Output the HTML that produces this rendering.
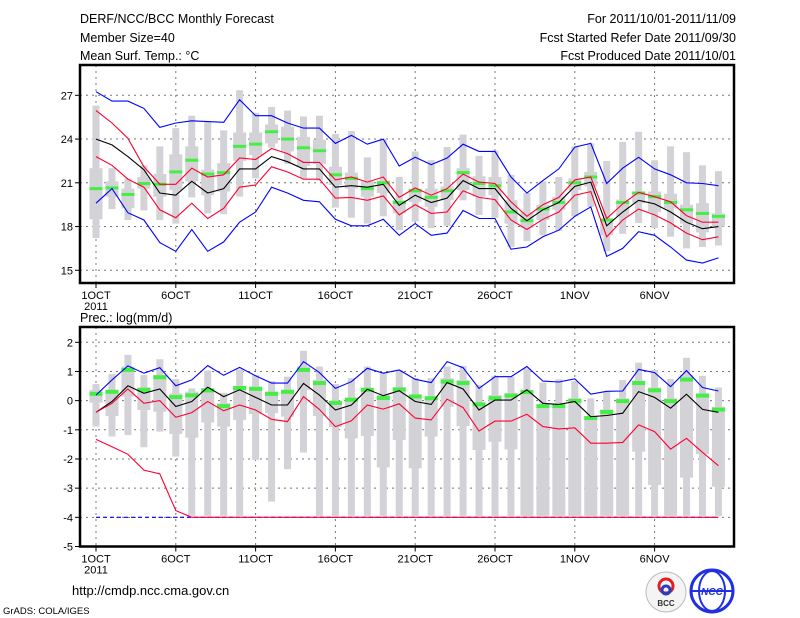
<!DOCTYPE html>
<html><head><meta charset="utf-8"><style>
html,body{margin:0;padding:0;background:#fff;}
svg{display:block;font-family:"Liberation Sans",sans-serif;}
</style></head><body>
<svg id="chart" width="800" height="618" viewBox="0 0 800 618" xmlns="http://www.w3.org/2000/svg">
<rect x="0" y="0" width="800" height="618" fill="#fff"/>
<g font-size="12.5" fill="#000">
<text x="80" y="23">DERF/NCC/BCC Monthly Forecast</text>
<text x="80" y="42">Member Size=40</text>
<text x="80" y="60">Mean Surf. Temp.: °C</text>
<text x="736" y="23" text-anchor="end">For 2011/10/01-2011/11/09</text>
<text x="736" y="42" text-anchor="end">Fcst Started Refer Date 2011/09/30</text>
<text x="736" y="60" text-anchor="end">Fcst Produced Date 2011/10/01</text>
</g>
<text x="80" y="322" font-size="12.5">Prec.: log(mm/d)</text>
<text x="72" y="595" font-size="13">http://cmdp.ncc.cma.gov.cn</text>
<text x="3" y="614" font-size="9.5">GrADS: COLA/IGES</text>
<g>
<circle cx="666" cy="592" r="20" fill="#f4f4f4" stroke="#bbb"/>
<circle cx="666" cy="586" r="7" fill="none" stroke="#e02020" stroke-width="3"/>
<circle cx="666" cy="590" r="4" fill="none" stroke="#2040c0" stroke-width="3"/>
<text x="666" y="606" font-size="8" text-anchor="middle" font-weight="bold" fill="#333">BCC</text>
</g>
<g>
<circle cx="712" cy="591" r="21" fill="#fff" stroke="#2030e0" stroke-width="3"/>
<ellipse cx="712" cy="591" rx="13" ry="20" fill="none" stroke="#2030e0" stroke-width="2"/>
<line x1="691" y1="591" x2="733" y2="591" stroke="#2030e0" stroke-width="2"/>
<text x="712" y="595" font-size="10" text-anchor="middle" font-style="italic" font-weight="bold" fill="#2030e0">NCC</text>
</g>
<g id="plots"></g>
</svg>
<script>
// ---- temperature panel data (40 days) ----
const dayLabels = ["1OCT","6OCT","11OCT","16OCT","21OCT","26OCT","1NOV","6NOV"];
const tempTicks = [15,18,21,24,27];
const tWhiskTop = [26.3,22.0,21.3,22.2,23.5,24.75,25.6,25.2,24.6,27.35,25.8,26.2,25.95,25.55,25.6,24.35,24.55,22.75,24.0,21.4,23.15,22.55,23.45,24.3,22.85,23.2,21.55,20.3,21.1,21.4,23.5,23.7,22.5,23.8,24.5,22.55,23.5,23.1,22.2,21.8];
const tWhiskBot = [17.2,19.2,18.45,19.1,18.45,18.2,20.0,18.9,18.85,20.05,21.3,23.4,22.3,21.3,21.15,19.3,18.6,18.2,18.7,17.75,18.35,17.9,18.05,19.8,18.8,18.6,16.6,17.0,17.4,17.7,18.7,19.35,16.3,17.5,18.25,17.9,17.3,16.5,16.6,16.7];
const tBoxTop = [22.0,21.1,20.6,21.4,21.6,22.95,23.5,21.9,22.35,24.45,24.45,25.0,24.85,24.15,23.95,22.1,21.7,21.1,21.15,19.8,20.6,20.6,20.75,22.0,21.45,21.4,19.8,19.0,19.5,20.05,21.3,21.75,18.45,19.85,20.4,20.4,20.25,19.5,19.6,18.9];
const tBoxBot = [18.5,20.05,19.25,20.6,20.05,20.5,21.1,20.15,20.4,22.5,22.9,23.7,23.15,22.15,22.3,20.85,20.6,20.05,20.3,18.9,19.7,19.35,19.8,20.5,20.05,20.15,18.2,17.9,18.45,19.15,20.5,20.75,17.4,18.7,19.6,19.0,19.25,18.2,17.6,18.0];
const tMedian = [20.6,20.65,20.2,20.95,20.9,21.75,22.55,21.6,21.7,23.5,23.65,24.5,24.0,23.4,23.2,21.55,21.3,20.6,21.0,19.65,20.45,20.0,20.45,21.7,20.95,20.8,19.0,18.4,19.2,19.65,21.0,21.4,18.45,19.65,20.3,20.05,19.65,19.15,18.9,18.7];
const tMax = [27.25,26.6,26.6,26.1,24.8,25.1,25.25,25.2,25.15,26.7,25.6,25.6,25.1,24.75,24.75,23.7,24.25,23.65,24.0,22.15,22.75,22.25,22.7,23.65,23.15,23.15,21.4,20.3,21.15,21.95,23.45,23.7,20.95,22.0,22.75,21.95,21.55,21.0,20.95,20.8];
const tUpper = [25.95,25.1,24.05,22.1,20.9,20.9,22.0,21.4,21.55,22.7,22.6,23.35,23.0,22.4,22.4,21.2,21.4,21.05,21.4,20.0,20.65,20.15,20.6,21.6,21.05,20.95,19.7,18.7,19.5,20.0,21.2,21.4,18.55,19.55,20.35,20.05,19.7,18.75,18.3,18.3];
const tMean = [24.0,23.6,22.8,21.9,20.3,20.15,21.1,20.3,20.6,21.95,21.95,22.8,22.45,21.95,21.95,20.7,20.8,20.7,20.9,19.45,20.15,19.65,19.95,21.15,20.6,20.6,19.25,18.4,19.15,19.65,20.75,21.05,18.05,19.0,19.8,19.55,19.0,18.3,17.85,18.0];
const tLower = [22.8,22.2,21.25,20.7,19.15,18.6,19.6,18.55,19.25,20.7,20.85,22.1,21.75,21.25,21.25,19.95,20.0,19.8,20.1,18.8,19.5,18.9,19.0,20.45,20.0,19.85,18.45,17.8,18.5,19.0,20.15,20.4,17.3,18.45,19.2,18.8,18.25,17.55,17.1,17.3];
const tMin = [19.6,20.6,18.95,18.45,16.9,16.3,17.8,16.3,16.95,18.3,19.0,20.7,20.3,19.8,19.7,18.5,18.05,18.05,18.5,17.4,18.2,17.4,17.55,19.1,18.55,18.55,16.45,16.6,17.3,17.75,18.7,19.35,15.95,16.5,17.65,17.4,16.6,15.7,15.5,15.85];
// ---- precipitation panel data ----
const precTicks = [-5,-4,-3,-2,-1,0,1,2];
const pWhiskTop = [0.57,0.91,1.57,0.88,1.42,0.74,0.42,1.03,0.27,1.07,0.88,0.67,0.82,1.71,1.17,0.57,0.77,1.17,0.94,1.05,0.77,0.77,1.17,1.19,0.54,0.85,0.82,1.11,0.62,0.73,0.66,0.08,0.31,0.71,1.3,1.05,0.74,1.47,0.85,0.45];
const pWhiskBot = [-0.89,-1.23,-1.18,-1.6,-1.06,-1.92,-3.95,-3.95,-3.95,-3.95,-2.03,-3.46,-2.35,-1.78,-3.95,-3.95,-3.95,-3.95,-3.95,-3.95,-3.95,-3.95,-3.95,-3.95,-3.95,-3.95,-3.95,-3.95,-3.95,-3.95,-3.95,-3.95,-3.95,-3.95,-3.95,-3.95,-3.95,-3.95,-3.95,-3.95];
const pBoxTop = [0.37,0.37,1.17,0.45,0.88,0.25,0.31,0.42,-0.09,0.5,0.48,0.31,0.37,1.17,0.71,-0.06,0.08,0.42,0.19,0.46,0.19,0.14,0.77,0.71,-0.06,0.19,0.27,0.37,-0.13,-0.13,0.08,-0.53,-0.3,0.08,0.69,0.45,0.08,0.88,0.25,-0.21];
const pBoxBot = [-0.07,-0.53,0.14,-0.32,-0.38,-1.14,-1.27,-0.75,-0.89,-0.66,-0.46,-0.43,-0.55,0.37,-0.53,-0.9,-1.29,-1.21,-2.29,-1.35,-2.32,-1.23,-0.21,-0.87,-1.69,-1.41,-1.67,-3.95,-3.95,-3.95,-3.95,-3.95,-3.95,-3.95,-1.75,-2.89,-3.95,-2.64,-1.83,-2.95];
const pMedian = [0.25,0.32,1.07,0.39,0.82,0.14,0.2,0.37,-0.17,0.45,0.42,0.25,0.32,1.07,0.62,-0.06,0.05,0.39,0.11,0.4,0.16,0.1,0.67,0.62,-0.11,0.1,0.19,0.31,-0.17,-0.17,0.01,-0.58,-0.37,0.0,0.62,0.37,0.0,0.74,0.19,-0.29];
const pMax = [0.19,0.71,1.19,0.94,1.13,0.51,0.71,1.2,0.87,1.14,0.85,0.6,0.6,1.34,0.96,0.42,0.65,1.11,0.94,1.05,0.73,0.62,1.34,1.13,0.42,0.82,0.82,1.17,0.67,0.64,0.75,0.22,0.32,0.33,1.07,0.96,0.48,1.03,0.45,0.33];
const pMean = [-0.4,-0.03,0.51,0.25,0.4,-0.2,-0.03,0.46,0.14,0.37,0.11,-0.15,-0.15,0.59,0.19,-0.32,-0.15,0.39,0.17,0.34,-0.03,-0.13,0.62,0.4,-0.32,0.02,0.02,0.37,-0.09,-0.13,-0.03,-0.55,-0.51,-0.43,0.31,0.11,-0.26,0.22,-0.3,-0.4];
const pUpperRed = [-0.4,-0.09,0.4,-0.09,0.0,-0.57,-0.41,-0.03,-0.35,-0.15,-0.32,-0.64,-0.72,0.14,-0.3,-0.89,-0.69,-0.15,-0.29,-0.11,-0.6,-0.66,0.05,-0.24,-1.04,-0.7,-0.7,-0.47,-0.89,-0.97,-0.93,-1.46,-1.46,-1.43,-0.83,-1.06,-1.66,-1.29,-1.77,-2.23];
const pLowerRed = [-1.33,-1.58,-1.84,-2.38,-2.51,-3.77,-4,-4,-4,-4,-4,-4,-4,-4,-4,-4,-4,-4,-4,-4,-4,-4,-4,-4,-4,-4,-4,-4,-4,-4,-4,-4,-4,-4,-4,-4,-4,-4,-4,-4];
const pMin = [-4,-4,-4,-4,-4,-4,-4,-4,-4,-4,-4,-4,-4,-4,-4,-4,-4,-4,-4,-4,-4,-4,-4,-4,-4,-4,-4,-4,-4,-4,-4,-4,-4,-4,-4,-4,-4,-4,-4,-4];

const NS = "http://www.w3.org/2000/svg";
const root = document.getElementById("plots");
function xDay(i){ return 96 + i*15.96; }
function mk(tag, attrs, parent){
  const e = document.createElementNS(NS, tag);
  for (const k in attrs) e.setAttribute(k, attrs[k]);
  (parent||root).appendChild(e);
  return e;
}
function panel(p){
  const g = mk("g", {});
  
  
  const y = v => p.y0 - (v - p.v0) * p.scale;
  // grid
  p.ticks.forEach(t => {
    if (t > p.vmin && t < p.vmax) {
      const l = mk("line", {x1:80,x2:734,y1:y(t),y2:y(t),stroke:"#777","stroke-width":1,"stroke-dasharray":"2,4"}, g);
      
      
    }
    const tl = mk("line", {x1:75,x2:80,y1:y(t),y2:y(t),stroke:"#000"}, g);
    
    
    const tx = mk("text", {x:73,y:y(t)+4,"text-anchor":"end","font-size":11}, g);
    tx.textContent = t;
    
    
  });
  dayLabels.forEach((lab, k) => {
    const x = xDay(k*5);
    const l = mk("line", {x1:x,x2:x,y1:p.top,y2:p.bot,stroke:"#777","stroke-width":1,"stroke-dasharray":"2,4"}, g);
    
    
    const tk = mk("line", {x1:x,x2:x,y1:p.bot,y2:p.bot+5,stroke:"#000"}, g);
    
    
    const tx = mk("text", {x:x,y:p.bot+16,"text-anchor":"middle","font-size":11}, g);
    tx.textContent = lab;
    
    
  });
  const yr = mk("text", {x:96,y:p.bot+27,"text-anchor":"middle","font-size":11}, g);
  yr.textContent = "2011";
  
  
  // boxes
  p.wt.forEach((_, i) => {
    const x = xDay(i);
    const w = mk("rect", {x:x-3.5,width:7,y:y(p.wt[i]),height:y(p.wb[i])-y(p.wt[i]),fill:"#d3d3d7"}, g);
    
    
    const b = mk("rect", {x:x-6.5,width:13,y:y(p.bt[i]),height:y(p.bb[i])-y(p.bt[i]),fill:"#d3d3d7"}, g);
    
    
  });
  p.md.forEach((v, i) => {
    const m = mk("rect", {x:xDay(i)-6.5,width:13,y:y(v)-1.5,height:p.mh,fill:"#44ee44"}, g);
    
    
  });
  p.lines.forEach(L => {
    const pts = L.d.map((v,i) => xDay(i).toFixed(1)+","+y(v).toFixed(1)).join(" ");
    const pl = mk("polyline", {points:pts,fill:"none",stroke:L.c,"stroke-width":1.1}, g);
    if (L.dash) pl.setAttribute("stroke-dasharray", L.dash);
    
    
  });
  const fr = mk("rect", {x:80,y:p.top,width:654,height:p.bot-p.top,fill:"none",stroke:"#000","stroke-width":2.5}, g);
  
  
}
panel({name:"temperature-panel", top:65, bot:283, y0:270.3, v0:15, scale:14.583, vmin:13.9, vmax:28.9,
  ticks:tempTicks, wt:tWhiskTop, wb:tWhiskBot, bt:tBoxTop, bb:tBoxBot, md:tMedian, mh:3,
  lines:[{d:tMax,c:"#0000ff",n:"max-line"},{d:tUpper,c:"#ff0033",n:"upper-line"},{d:tMean,c:"#000",n:"mean-line"},{d:tLower,c:"#ff0033",n:"lower-line"},{d:tMin,c:"#0000ff",n:"min-line"}]});
panel({name:"precipitation-panel", top:327, bot:546.5, y0:342.3, v0:2, scale:29.17, vmin:-5, vmax:2.5,
  ticks:precTicks, wt:pWhiskTop, wb:pWhiskBot, bt:pBoxTop, bb:pBoxBot, md:pMedian, mh:4,
  lines:[{d:pMin,c:"#0000ff",n:"min-line",dash:"4,3"},{d:pLowerRed,c:"#ff0033",n:"lower-line"},{d:pMax,c:"#0000ff",n:"max-line"},{d:pMean,c:"#000",n:"mean-line"},{d:pUpperRed,c:"#ff0033",n:"upper-line"}]});
</script>
</body></html>
